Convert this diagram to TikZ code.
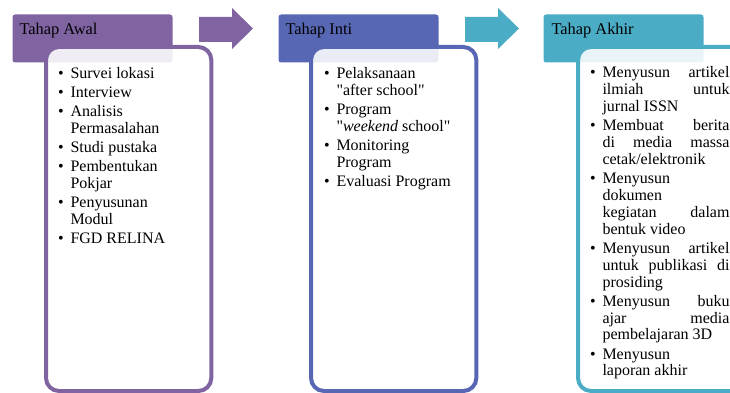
\documentclass[tikz,border=0pt]{standalone}
\usepackage{fontspec}
\setmainfont{Liberation Serif}
\usetikzlibrary{positioning}

\definecolor{awalclr}{HTML}{8064A2}
\definecolor{inticlr}{HTML}{5767B4}
\definecolor{akhirclr}{HTML}{4BACC6}

\newenvironment{tahaplist}{\begin{list}{\textbullet}{%
  \setlength{\leftmargin}{10.5pt}\setlength{\labelwidth}{5pt}%
  \setlength{\labelsep}{5pt}\setlength{\itemsep}{1.6pt}%
  \setlength{\parsep}{0pt}\setlength{\topsep}{0pt}\setlength{\partopsep}{0pt}}}%
  {\end{list}}

\tikzset{every picture/.style={line width=0.75pt}}
\tikzset{
  header/.style={rectangle, rounded corners=2pt, minimum width=120pt, minimum height=36pt, inner sep=0pt, anchor=north west},
  headtxt/.style={inner sep=0pt, anchor=base west, font=\fontsize{12.3}{14}\selectfont},
  tahapbox/.style={rectangle, rounded corners=9.75pt, line width=3pt, fill=white, fill opacity=0.88, draw opacity=1, minimum width=124pt, minimum height=258pt, inner sep=0pt, anchor=north west},
  items/.style={inner sep=0pt, anchor=north west, text width=#1, align=justify, font=\fontsize{12}{12.7}\selectfont},
}

\begin{document}
\begin{tikzpicture}[x=0.75pt,y=0.75pt,yscale=-1,xscale=1]
\useasboundingbox (0,0) rectangle (730,392);
\clip (0,0) rectangle (730,392);

%Tahap Awal
\node[header, fill=awalclr] (awalhead) at (12,14) {};
\node[tahapbox, draw=awalclr] (awalbox) at (44,45) {};
\node[headtxt] (awaltxt) at ([shift={(7,21)}]awalhead.north west) {Tahap Awal};
\node[items=108pt] (awalitems) at ([shift={(12,16)}]awalbox.north west) {%
\begin{tahaplist}
\item Survei lokasi
\item Interview
\item Analisis\\ Permasalahan
\item Studi pustaka
\item Pembentukan\\ Pokjar
\item Penyusunan\\ Modul
\item FGD RELINA
\end{tahaplist}};

%Shape: Right Arrow
\fill[awalclr] (199,17) -- (232,17) -- (232,8) -- (253,28.5) -- (232,49) -- (232,42) -- (199,42) -- cycle;

%Tahap Inti
\node[header, fill=inticlr] (intihead) at (278,14) {};
\node[tahapbox, draw=inticlr] (intibox) at (309,45) {};
\node[headtxt] (intitxt) at ([shift={(7,21)}]intihead.north west) {Tahap Inti};
\node[items=108pt] (intiitems) at ([shift={(13,16)}]intibox.north west) {%
\begin{tahaplist}
\item Pelaksanaan\\ \textquotedbl after school\textquotedbl
\item Program\\ \textquotedbl\textit{weekend} school\textquotedbl
\item Monitoring\\ Program
\item Evaluasi Program
\end{tahaplist}};

%Shape: Right Arrow
\fill[akhirclr] (465,17) -- (498,17) -- (498,8) -- (519,28.5) -- (498,49) -- (498,42) -- (465,42) -- cycle;

%Tahap Akhir
\node[header, fill=akhirclr] (akhirhead) at (543,14) {};
\node[tahapbox, draw=akhirclr] (akhirbox) at (576,45) {};
\node[headtxt] (akhirtxt) at ([shift={(8,21)}]akhirhead.north west) {Tahap Akhir};
\node[items=105.75pt] (akhiritems) at ([shift={(12,15)}]akhirbox.north west) {%
\begin{tahaplist}
\item Menyusun\hfill artikel\\ ilmiah\hfill untuk\\ jurnal ISSN
\item Membuat\hfill berita\\ di\hfill media\hfill massa\\ cetak/elektronik
\item Menyusun\\ dokumen\\ kegiatan\hfill dalam\\ bentuk video
\item Menyusun\hfill artikel\\ untuk\hfill publikasi\hfill di\\ prosiding
\item Menyusun\hfill buku\\ ajar\hfill media\\ pembelajaran 3D
\item Menyusun\\ laporan akhir
\end{tahaplist}};

\end{tikzpicture}
\end{document}
